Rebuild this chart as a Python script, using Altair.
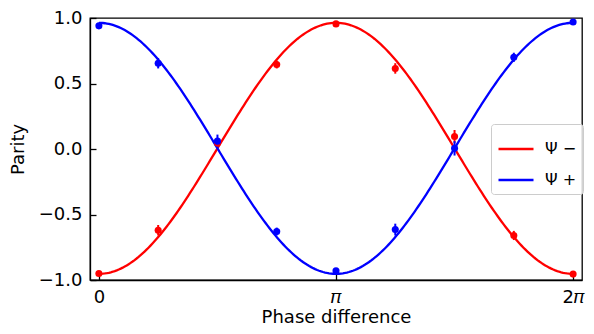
import math
import numpy as np
import pandas as pd
import altair as alt

# phase points (in units of pi)
phase_pi = [0, 0.25, 0.5, 0.75, 1.0, 1.25, 1.5, 1.75, 2.0]
psi_minus = [-0.95, -0.62, 0.045, 0.645, 0.955, 0.615, 0.095, -0.66, -0.955]
psi_minus_err = [0.015, 0.04, 0.03, 0.03, 0.015, 0.04, 0.05, 0.035, 0.015]
psi_plus = [0.94, 0.655, 0.06, -0.63, -0.93, -0.615, 0.005, 0.70, 0.97]
psi_plus_err = [0.015, 0.04, 0.05, 0.03, 0.02, 0.045, 0.055, 0.035, 0.015]

# fitted curve parameters (contrast, offset)
fit_amp = 0.958
fit_offset = 0.005

labels = ["Ψ −", "Ψ +"]
colors = ["#ff0000", "#0000ff"]
xtick_labels = ["0", "𝜋", "2𝜋"]

rows = []
for k, p in enumerate(phase_pi):
    x = p * math.pi
    rows.append({"x": x, "y": psi_minus[k], "lo": psi_minus[k] - psi_minus_err[k],
                 "hi": psi_minus[k] + psi_minus_err[k], "s": labels[0]})
    rows.append({"x": x, "y": psi_plus[k], "lo": psi_plus[k] - psi_plus_err[k],
                 "hi": psi_plus[k] + psi_plus_err[k], "s": labels[1]})
pts = pd.DataFrame(rows)

xs = np.linspace(0, 2 * math.pi, 240)
curve = pd.concat([
    pd.DataFrame({"x": xs, "y": fit_offset - fit_amp * np.cos(xs), "s": labels[0]}),
    pd.DataFrame({"x": xs, "y": fit_offset + fit_amp * np.cos(xs), "s": labels[1]}),
])

W, H = 492, 262
pad = 0.118
xscale = alt.Scale(domain=[-pad, 2 * math.pi + pad], nice=False, zero=False)
yscale = alt.Scale(domain=[-1, 1], nice=False, zero=False)
cscale = alt.Scale(domain=labels, range=colors)

xaxis = alt.Axis(
    values=[0, math.pi, 2 * math.pi],
    labelExpr=f"datum.value < 1 ? '{xtick_labels[0]}' : (datum.value < 4 ? '{xtick_labels[1]}' : '{xtick_labels[2]}')",
    title="Phase difference",
    titleX=W / 2, titleY=42, titleBaseline="alphabetic", titleAlign="center",
    labelPadding=14, grid=False,
)
yaxis = alt.Axis(
    values=[-1, -0.5, 0, 0.5, 1], format=".1f",
    title="Parity",
    titleX=-72, titleY=H / 2, titleAngle=-90, titleBaseline="middle", titleAlign="center",
    labelPadding=14, grid=False,
)

lines = alt.Chart(curve).mark_line(strokeWidth=2.3).encode(
    x=alt.X("x:Q", scale=xscale, axis=xaxis),
    y=alt.Y("y:Q", scale=yscale, axis=yaxis),
    color=alt.Color("s:N", scale=cscale, sort=labels,
                    legend=alt.Legend(title=None, orient="none", legendX=401, legendY=106,
                                      symbolType="stroke", symbolSize=1225,
                                      symbolStrokeWidth=2.3, labelFontSize=16,
                                      labelFont="DejaVu Sans", padding=6,
                                      fillColor="rgba(255,255,255,0.8)",
                                      strokeColor="#cccccc", cornerRadius=3,
                                      rowPadding=4, labelOffset=10)),
    detail="s:N",
)

bars = alt.Chart(pts).mark_rule(strokeWidth=2).encode(
    x="x:Q", y="lo:Q", y2="hi:Q",
    color=alt.Color("s:N", scale=cscale, legend=None),
)
dots = alt.Chart(pts).mark_circle(size=50, opacity=1).encode(
    x="x:Q", y="y:Q",
    color=alt.Color("s:N", scale=cscale, legend=None),
)

chart = alt.layer(lines, bars, dots).properties(
    width=W, height=H,
    autosize=alt.AutoSizeParams(type="none"),
    padding={"left": 82, "top": 10, "right": 4, "bottom": 46},
).configure_view(
    stroke="black", strokeWidth=1.3,
).configure_axis(
    labelFont="DejaVu Sans", titleFont="DejaVu Sans",
    labelFontSize=18, titleFontSize=18, titleFontWeight="normal",
    labelColor="black", titleColor="black",
    domainColor="black", domainWidth=1.3,
    tickColor="black", tickWidth=1.3, tickSize={"expr": "-6"},
).configure_legend(
    labelColor="black",
)

chart.save("out.html", embed_options={"renderer": "svg", "actions": False})
